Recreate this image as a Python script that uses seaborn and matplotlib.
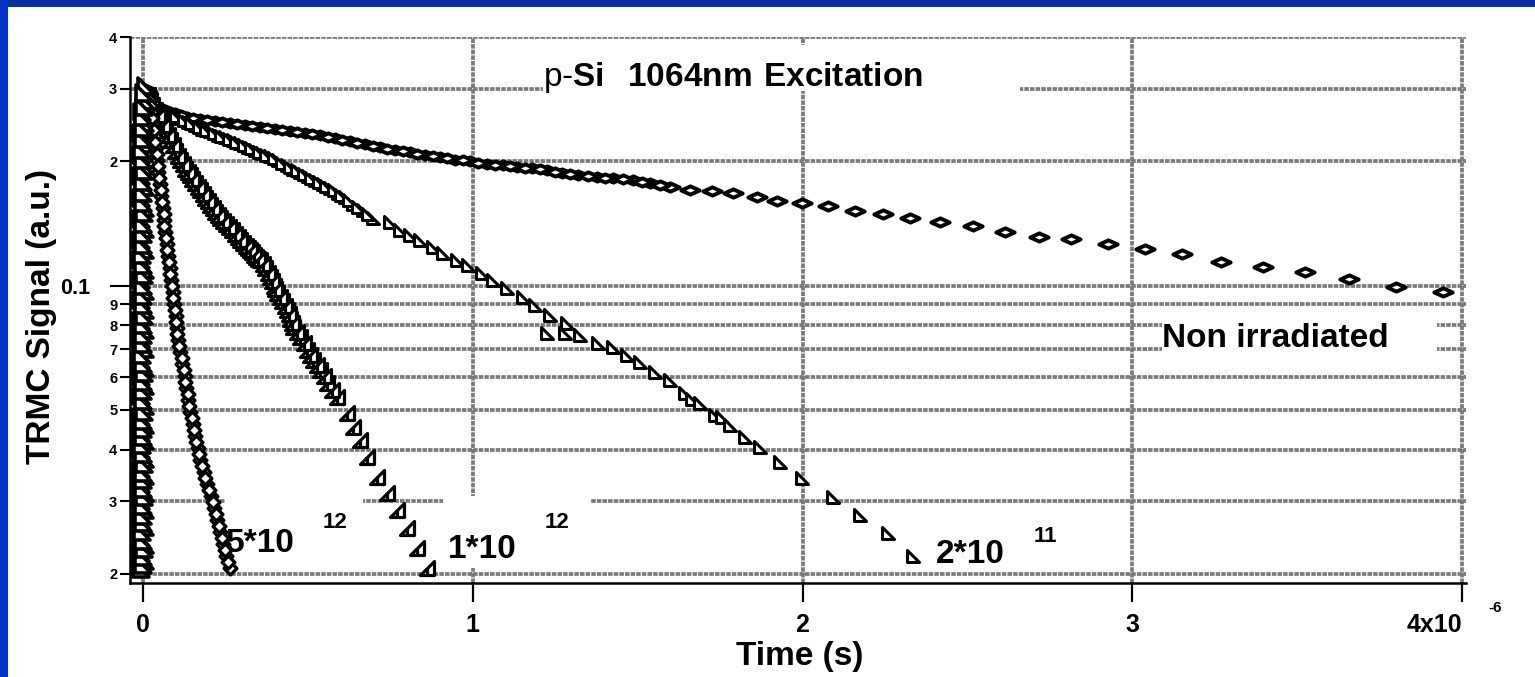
import matplotlib
matplotlib.use("Agg")
import numpy as np
import matplotlib.pyplot as plt
from matplotlib.path import Path
from matplotlib.patches import Rectangle
from matplotlib.ticker import FixedLocator, FixedFormatter
import seaborn as sns

# ---------------- data: time in microseconds, TRMC signal in a.u. ----------------
# non irradiated sample
nonirr_t_us = [0.005, 0.015, 0.036, 0.067, 0.097, 0.133, 0.173, 0.218, 0.264, 0.309,
               0.355, 0.400, 0.446, 0.491, 0.537, 0.582, 0.628, 0.673, 0.719, 0.764,
               0.810, 0.855, 0.901, 0.946, 0.992, 1.043,
               1.092, 1.134, 1.180, 1.225, 1.271, 1.319, 1.377, 1.425, 1.486, 1.538,
               1.598, 1.659, 1.726, 1.789, 1.862, 1.923, 1.998, 2.077, 2.159, 2.244,
               2.326, 2.417, 2.517,
               2.614, 2.717, 2.814, 2.926, 3.039, 3.151, 3.269, 3.397, 3.524, 3.657,
               3.800, 3.943]
nonirr_sig = [0.300, 0.281, 0.272, 0.266, 0.2618, 0.256, 0.253, 0.2504, 0.2476, 0.2448,
              0.242, 0.239, 0.237, 0.2341, 0.2315, 0.2277, 0.2239, 0.2202, 0.2165, 0.213,
              0.2106, 0.2071, 0.2048, 0.202, 0.200, 0.197,
              0.1958, 0.1937, 0.1926, 0.1905, 0.1873, 0.185, 0.1832, 0.1822, 0.180, 0.1771,
              0.1732, 0.170, 0.1693, 0.1675, 0.1638, 0.1602, 0.1585, 0.1558, 0.1516, 0.149,
              0.1456, 0.1424, 0.1393,
              0.1348, 0.1311, 0.1296, 0.126, 0.1226, 0.1192, 0.114, 0.1109, 0.1078, 0.1037,
              0.0992, 0.0964]
# densely sampled early part of the same transient
nonirr_early_t_us = [0.026, 0.052, 0.082, 0.115, 0.153, 0.195, 0.241, 0.286, 0.332, 0.377,
                     0.423, 0.468, 0.514, 0.560, 0.605, 0.650, 0.696, 0.741, 0.787, 0.832,
                     0.878, 0.923, 0.969, 1.017, 1.067, 1.113, 1.157, 1.203, 1.248, 1.295,
                     1.348, 1.401, 1.455, 1.512, 1.568]
nonirr_early_sig = [0.276, 0.269, 0.264, 0.259, 0.2545, 0.2517, 0.249, 0.2462, 0.2434, 0.2405,
                    0.238, 0.2355, 0.2328, 0.2296, 0.2258, 0.222, 0.2183, 0.2148, 0.2118, 0.2088,
                    0.206, 0.2034, 0.201, 0.1985, 0.1964, 0.1947, 0.1931, 0.1915, 0.1889, 0.1861,
                    0.1841, 0.1827, 0.1811, 0.1785, 0.1751]

# 2*10^11
d2e11_t_us = [0.021, 0.044, 0.067, 0.090, 0.112, 0.135, 0.158, 0.180, 0.203, 0.226,
              0.249, 0.272, 0.294, 0.317, 0.340, 0.362, 0.385, 0.410, 0.437, 0.456,
              0.476, 0.499, 0.522, 0.545, 0.567, 0.590, 0.613, 0.637, 0.667, 0.697,
              0.749, 0.779, 0.810, 0.840, 0.879, 0.910, 0.952, 0.986, 1.028, 1.061,
              1.104, 1.152, 1.189, 1.234, 1.286, 1.225, 1.280, 1.325, 1.380, 1.425,
              1.468, 1.507, 1.553, 1.598, 1.644, 1.665, 1.689, 1.735, 1.756, 1.780,
              1.826, 1.871, 1.932, 1.998, 2.093, 2.174, 2.259, 2.335]
d2e11_sig = [0.280, 0.273, 0.266, 0.260, 0.254, 0.249, 0.245, 0.240, 0.237, 0.232,
             0.229, 0.225, 0.2214, 0.217, 0.213, 0.209, 0.2059, 0.201, 0.1958, 0.192,
             0.1884, 0.184, 0.180, 0.176, 0.1722, 0.168, 0.1638, 0.158, 0.152, 0.1456,
             0.1425, 0.136, 0.1325, 0.129, 0.124, 0.1198, 0.115, 0.1121, 0.1072, 0.103,
             0.0988, 0.0938, 0.0897, 0.0848, 0.0811, 0.0767, 0.0767, 0.0759, 0.0726, 0.0709,
             0.0679, 0.0652, 0.0617, 0.0590, 0.0549, 0.0530, 0.0519, 0.0486, 0.0480, 0.0459,
             0.0430, 0.0406, 0.0373, 0.0342, 0.0307, 0.0278, 0.0251, 0.0221]
d2e11_early_t_us = [0.032, 0.055, 0.078, 0.101, 0.123, 0.146, 0.169, 0.191, 0.214, 0.237,
                    0.260, 0.283, 0.305, 0.328, 0.351, 0.373, 0.397, 0.423, 0.446, 0.466,
                    0.487, 0.510, 0.533, 0.556, 0.578, 0.601, 0.625, 0.652, 0.682]
d2e11_early_sig = [0.2765, 0.2695, 0.263, 0.257, 0.2515, 0.247, 0.2425, 0.2385, 0.2345, 0.2305,
                   0.227, 0.2232, 0.2192, 0.215, 0.211, 0.2075, 0.2035, 0.1984, 0.1939, 0.1902,
                   0.1862, 0.182, 0.178, 0.174, 0.1701, 0.1659, 0.1609, 0.155, 0.1488]

# 1*10^12
d1e12_t_us = [0.015, 0.021, 0.036, 0.052, 0.067, 0.082, 0.097, 0.112, 0.127, 0.143,
              0.158, 0.173, 0.188, 0.203, 0.218, 0.234, 0.252, 0.270, 0.287, 0.303,
              0.318, 0.331, 0.343, 0.355, 0.370, 0.385, 0.396, 0.406, 0.422, 0.437,
              0.446, 0.455, 0.476, 0.497, 0.517, 0.537, 0.558, 0.588, 0.619, 0.637,
              0.658, 0.679, 0.710, 0.740, 0.770, 0.801, 0.831, 0.861]
d1e12_sig = [0.290, 0.281, 0.266, 0.252, 0.238, 0.225, 0.212, 0.201, 0.192, 0.185,
             0.177, 0.170, 0.163, 0.157, 0.151, 0.146, 0.141, 0.136, 0.131, 0.1267,
             0.123, 0.1205, 0.117, 0.115, 0.110, 0.1048, 0.100, 0.0959, 0.0915, 0.0872,
             0.083, 0.0793, 0.0750, 0.0698, 0.066, 0.0624, 0.058, 0.0537, 0.0491, 0.0454,
             0.0422, 0.0384, 0.0344, 0.0314, 0.0286, 0.0258, 0.0231, 0.0207]
d1e12_early_t_us = [0.018, 0.028, 0.044, 0.060, 0.075, 0.090, 0.105, 0.120, 0.135, 0.150,
                    0.166, 0.181, 0.196, 0.211, 0.226, 0.243, 0.261, 0.279, 0.295, 0.311,
                    0.325, 0.337, 0.349, 0.363, 0.378, 0.391, 0.401, 0.414, 0.430, 0.442,
                    0.451, 0.466, 0.487, 0.507, 0.527, 0.548, 0.573]
d1e12_early_sig = [0.2855, 0.2735, 0.259, 0.245, 0.2315, 0.2185, 0.2065, 0.1965, 0.1885, 0.181,
                   0.1735, 0.1665, 0.16, 0.154, 0.1485, 0.1435, 0.1385, 0.1335, 0.129, 0.1248,
                   0.1217, 0.1187, 0.116, 0.1125, 0.1074, 0.1024, 0.098, 0.0937, 0.0893, 0.0851,
                   0.0811, 0.0771, 0.0724, 0.0679, 0.0642, 0.0602, 0.0558]

# 5*10^12
d5e12_t_us = [0.0212, 0.0258, 0.0303, 0.0349, 0.0394, 0.0425, 0.0470, 0.0516, 0.0561, 0.0607,
              0.0637, 0.0667, 0.0713, 0.0758, 0.0804, 0.0849, 0.0895, 0.0940, 0.0986, 0.1031,
              0.1061, 0.1137, 0.1198, 0.1259, 0.1319, 0.1380, 0.1440, 0.1516, 0.1577, 0.1653,
              0.1729, 0.1835, 0.1941, 0.2062, 0.2168, 0.2259, 0.2350, 0.2441, 0.2532, 0.2638]
d5e12_sig = [0.2815, 0.2633, 0.2462, 0.2303, 0.2153, 0.2014, 0.1883, 0.1761, 0.1647, 0.1541,
             0.1441, 0.1347, 0.1260, 0.1178, 0.1102, 0.1031, 0.0964, 0.0901, 0.0843, 0.0789,
             0.0737, 0.0690, 0.0645, 0.0603, 0.0564, 0.0528, 0.0493, 0.0461, 0.0432, 0.0404,
             0.0377, 0.0353, 0.0330, 0.0309, 0.0289, 0.0270, 0.0252, 0.0236, 0.0221, 0.0207]
d5e12_extra_t_us = [0.0235, 0.0281, 0.0326, 0.0372, 0.0410, 0.0448, 0.0493, 0.0539, 0.0584,
                    0.0622, 0.0652, 0.0690, 0.0736, 0.0781, 0.0827, 0.0872, 0.0918, 0.0963,
                    0.1009, 0.1046, 0.1099, 0.1168, 0.1229, 0.1289, 0.1350, 0.1410, 0.1478,
                    0.1547, 0.1615, 0.1691, 0.1782, 0.1888, 0.2002, 0.2115, 0.2214, 0.2305,
                    0.2396, 0.2487, 0.2585]
d5e12_extra_sig = [0.2722, 0.2546, 0.2381, 0.2227, 0.2082, 0.1948, 0.1821, 0.1703, 0.1593,
                   0.1490, 0.1394, 0.1303, 0.1219, 0.1139, 0.1066, 0.0997, 0.0932, 0.0871,
                   0.0815, 0.0763, 0.0713, 0.0667, 0.0624, 0.0583, 0.0545, 0.0511, 0.0477,
                   0.0446, 0.0418, 0.0391, 0.0365, 0.0341, 0.0319, 0.0299, 0.0279, 0.0261,
                   0.0244, 0.0228, 0.0214]

# rising edge of the transients at t = 0
rise_t_us = [-0.006, 0.007, -0.005, 0.006, -0.007, 0.005, -0.006, 0.007, -0.005, 0.006,
             -0.007, 0.006, -0.006, 0.007, -0.005, 0.006, -0.007, 0.005, -0.006, 0.007,
             -0.005, 0.006, -0.007, 0.006, -0.006, 0.007, -0.005, 0.006, -0.007, 0.005,
             -0.006, 0.007, -0.005, 0.006, -0.007, 0.006, -0.006, 0.007, -0.005, 0.006,
             -0.007, 0.005, -0.006, 0.007, -0.005, 0.006, -0.007, 0.006, -0.004, 0.008,
             0.010]
rise_sig = [0.0205, 0.0215, 0.0225, 0.0235, 0.0245, 0.026, 0.027, 0.0285, 0.030, 0.0315,
            0.033, 0.0345, 0.036, 0.038, 0.040, 0.042, 0.044, 0.046, 0.048, 0.051,
            0.054, 0.057, 0.060, 0.063, 0.066, 0.070, 0.074, 0.078, 0.082, 0.087,
            0.092, 0.097, 0.103, 0.109, 0.115, 0.122, 0.129, 0.137, 0.145, 0.154,
            0.163, 0.173, 0.184, 0.195, 0.207, 0.220, 0.234, 0.248, 0.263, 0.280,
            0.305]
rise2_t_us = [0.001, -0.001, 0.002, 0.000, -0.002, 0.001, 0.000, -0.001, 0.002, 0.000,
              0.001, -0.001, 0.002, 0.000, -0.002, 0.001, 0.000, -0.001, 0.002, 0.000,
              0.001, -0.001, 0.002, 0.000, -0.002, 0.001, 0.000, -0.001, 0.002, 0.000,
              0.001, -0.001, 0.002, 0.000, -0.002, 0.001, 0.000, -0.001, 0.002, 0.000,
              0.001, -0.001, 0.002, 0.000, -0.002, 0.001, 0.000, -0.001, 0.002, 0.004]
rise2_sig = [0.021, 0.022, 0.023, 0.024, 0.0252, 0.0265, 0.0277, 0.0292, 0.0307, 0.0322,
             0.0337, 0.0352, 0.037, 0.039, 0.041, 0.043, 0.045, 0.047, 0.0495, 0.0525,
             0.0555, 0.0585, 0.0615, 0.0645, 0.068, 0.072, 0.076, 0.080, 0.0845, 0.0895,
             0.0945, 0.100, 0.106, 0.112, 0.1185, 0.1255, 0.133, 0.141, 0.1495, 0.1585,
             0.168, 0.1785, 0.1895, 0.201, 0.2135, 0.227, 0.241, 0.2555, 0.2715, 0.292]

x_ticks_us = [0, 1, 2, 3, 4]
x_tick_labels = ["0", "1", "2", "3", "4x10"]
y_major_ticks = [0.1]
y_major_labels = ["0.1"]
y_minor_ticks = [0.02, 0.03, 0.04, 0.05, 0.06, 0.07, 0.08, 0.09, 0.2, 0.3, 0.4]
y_minor_labels = ["2", "3", "4", "5", "6", "7", "8", "9", "2", "3", "4"]

# ---------------- style ----------------
sns.set_theme(style="white")
plt.rcParams["font.family"] = ["Liberation Sans", "DejaVu Sans"]
plt.rcParams["font.weight"] = "bold"
plt.rcParams["mathtext.fontset"] = "custom"
plt.rcParams["mathtext.rm"] = "Liberation Sans"
plt.rcParams["mathtext.bf"] = "Liberation Sans:bold"
for key in ["text.color", "axes.labelcolor", "xtick.color", "ytick.color"]:
    plt.rcParams[key] = "black"

# marker shapes
flat_diamond = Path([(-1, 0), (0, 0.45), (1, 0), (0, -0.45), (-1, 0)],
                    [Path.MOVETO, Path.LINETO, Path.LINETO, Path.LINETO, Path.CLOSEPOLY])
small_diamond = Path([(-0.5, 0), (0, 0.5), (0.5, 0), (0, -0.5), (-0.5, 0)],
                     [Path.MOVETO, Path.LINETO, Path.LINETO, Path.LINETO, Path.CLOSEPOLY])
left_right_tri = Path([(-0.5, 0.5), (-0.5, -0.5), (0.5, -0.5), (-0.5, 0.5)],
                      [Path.MOVETO, Path.LINETO, Path.LINETO, Path.CLOSEPOLY])
double_tri = Path([(-0.5, -0.5), (0.5, -0.5), (0.5, 0.5), (-0.5, -0.5),
                   (0.0, -0.5), (0.0, 0.0)],
                  [Path.MOVETO, Path.LINETO, Path.LINETO, Path.CLOSEPOLY,
                   Path.MOVETO, Path.LINETO])

fig = plt.figure(figsize=(15.35, 6.77), dpi=100, facecolor="white")
W_PX, H_PX = 1535, 677
ax_l, ax_r, ax_t, ax_b = 130, 1466, 37, 583
ax = fig.add_axes([ax_l / W_PX, 1 - ax_b / H_PX, (ax_r - ax_l) / W_PX, (ax_b - ax_t) / H_PX])
ax.set_facecolor("white")

# blue slide frame along top and left edges
fig.add_artist(Rectangle((0, 1 - 7 / H_PX), 1, 7 / H_PX, transform=fig.transFigure,
                         facecolor="#0b2d9e", edgecolor="none", zorder=0))
fig.add_artist(Rectangle((0, 0), 8 / W_PX, 1, transform=fig.transFigure,
                         facecolor="#0434c6", edgecolor="none", zorder=0))

us = 1e-6
series = [
    (nonirr_t_us + nonirr_early_t_us, nonirr_sig + nonirr_early_sig, flat_diamond, 175, 2.8),
    (d2e11_t_us + d2e11_early_t_us, d2e11_sig + d2e11_early_sig, left_right_tri, 68, 2.2),
    (d1e12_t_us + d1e12_early_t_us, d1e12_sig + d1e12_early_sig, double_tri, 110, 2.3),
    (d5e12_t_us + d5e12_extra_t_us, d5e12_sig + d5e12_extra_sig, small_diamond, 85, 2.4),
    (rise_t_us + rise2_t_us, rise_sig + rise2_sig, left_right_tri, 140, 2.6),
]
for t_us, sig, mk, size, lw in series:
    sns.scatterplot(x=np.asarray(t_us) * us, y=np.asarray(sig), ax=ax, marker=mk, s=size,
                    color="white", edgecolor="black", linewidth=lw, zorder=3, legend=False)

ax.set_yscale("log")
ax.set_xlim(-0.0394 * us, 4.012 * us)
ax.set_ylim(0.01901, 0.4002)

ax.xaxis.set_major_locator(FixedLocator(np.asarray(x_ticks_us) * us))
ax.xaxis.set_major_formatter(FixedFormatter(x_tick_labels))
ax.xaxis.set_minor_locator(FixedLocator([]))
ax.yaxis.set_major_locator(FixedLocator(y_major_ticks))
ax.yaxis.set_major_formatter(FixedFormatter(y_major_labels))
ax.yaxis.set_minor_locator(FixedLocator(y_minor_ticks))
ax.yaxis.set_minor_formatter(FixedFormatter(y_minor_labels))

ax.tick_params(axis="x", which="major", bottom=True, length=13.7, width=1.6,
               labelsize=18, pad=8)
ax.tick_params(axis="y", which="major", left=True, length=14.4, width=1.5,
               labelsize=15.5, pad=14)
ax.tick_params(axis="y", which="minor", left=True, length=7.2, width=1.5,
               labelsize=10.5, pad=2)
ax.get_xticklabels()[-1].set_horizontalalignment("right")

ax.set_axisbelow(True)
grid_kw = dict(color="#7a7a7a", linewidth=2.7, linestyle=(0, (1.2, 0.3)))
ax.grid(True, axis="y", which="both", **grid_kw)
ax.grid(True, axis="x", which="major", **grid_kw)

for side in ["top", "right"]:
    ax.spines[side].set_visible(False)
for side in ["left", "bottom"]:
    ax.spines[side].set_color("black")
    ax.spines[side].set_linewidth(1.8)
    ax.spines[side].set_zorder(4)

ax.set_xlabel("Time (s)", fontsize=24, fontweight="bold")
ax.set_ylabel("TRMC Signal (a.u.)", fontsize=24, fontweight="bold")
ax.xaxis.set_label_coords(0.5015, -0.106)
ax.yaxis.set_label_coords(-0.0546, 0.489)

# exponent of the time axis
ax.text(1.0217, -0.045, "-6", transform=ax.transAxes, fontsize=11, fontweight="bold",
        ha="center", va="center")

# white panels behind the annotations
for x0, y0, w, h in [(0.3091, 0.9020, 0.3571, 0.0833),
                     (0.7725, 0.4084, 0.2058, 0.0953),
                     (0.0711, 0.0275, 0.1033, 0.1320),
                     (0.2343, 0.0275, 0.1100, 0.1320)]:
    ax.add_patch(Rectangle((x0, y0), w, h, transform=ax.transAxes,
                           facecolor="white", edgecolor="none", zorder=1.5))

ax.text(1.213 * us, 0.3043, r"p-$\mathbf{Si\ \ 1064nm\ Excitation}$", fontsize=24,
        fontweight="normal", ha="left", va="baseline", zorder=5)
ax.text(3.090 * us, 0.0709, "Non irradiated", fontsize=24, fontweight="bold",
        ha="left", va="baseline", zorder=5)
for x_us, y, s, fs in [(0.2517, 0.0226, "5*10", 24), (0.5459, 0.02584, "12", 16),
                       (0.925, 0.02186, "1*10", 24), (1.219, 0.02584, "12", 16),
                       (2.405, 0.02126, "2*10", 24), (2.702, 0.0239, "11", 16)]:
    ax.text(x_us * us, y, s, fontsize=fs, fontweight="bold", ha="left", va="baseline",
            zorder=5)

fig.savefig("out.png", dpi=100, facecolor="white")
